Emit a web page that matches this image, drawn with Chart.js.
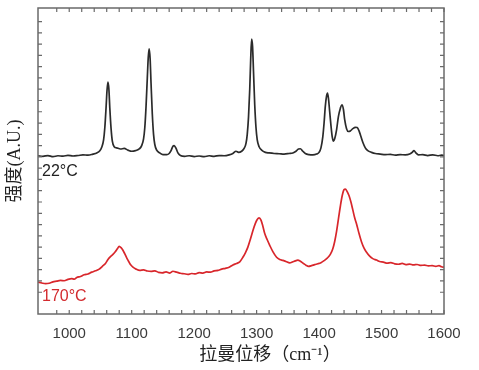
<!DOCTYPE html>
<html>
<head>
<meta charset="utf-8">
<style>
html,body{margin:0;padding:0;background:#fff;}
#wrap{width:479px;height:370px;}
</style>
<script src="https://cdn.jsdelivr.net/npm/chart.js@4.4.1/dist/chart.umd.min.js"></script>
</head>
<body>
<div id="wrap"><canvas id="c" width="479" height="370"></canvas></div>
<script>
// ---- data ----
const xTickLabels = [1000, 1100, 1200, 1300, 1400, 1500, 1600];
const seriesLabels = ['22°C', '170°C'];
const xTitle = '拉曼位移（cm⁻¹）';
const yTitle = '强度(A.U.)';

const roomShift = [950,958,966,974,982,990,998,1006,1014,1022,1030,1038,1044,1049,1052,1055,1057,1059,1060.5,1062,1063.5,1065,1067,1069,1072,1076,1082,1088,1094,1100,1106,1112,1116,1119,1121,1123,1125,1126.5,1128,1129.5,1131,1133,1135,1137,1140,1145,1150,1156,1160,1163,1166,1168,1171,1174,1178,1185,1192,1200,1208,1216,1224,1232,1240,1248,1256,1262,1267,1271,1276,1280,1283,1285,1287,1289,1290.5,1292,1293.5,1295,1297,1299,1301,1304,1308,1314,1320,1328,1336,1344,1352,1358,1363,1367,1370,1374,1378,1384,1390,1396,1400,1403,1406,1408,1410,1412,1413.5,1415,1417,1419,1421,1423,1425,1428,1431,1434,1436.5,1439,1441,1444,1447,1450,1454,1458,1461,1464,1467,1470,1474,1478,1484,1490,1498,1506,1514,1522,1530,1538,1545,1549,1552,1555,1559,1566,1574,1582,1590,1596,1600];
const roomIntensity = [13.10,13.05,13.12,13.02,13.10,13.06,13.14,13.08,13.12,13.18,13.15,13.25,13.35,13.55,13.85,14.5,15.6,17.4,18.9,19.62,19.0,17.3,15.5,14.4,13.9,13.8,13.7,13.75,13.6,13.5,13.55,13.7,14.0,14.6,15.6,17.5,20.0,21.8,22.57,21.7,19.5,16.8,15.0,14.1,13.6,13.35,13.2,13.2,13.3,13.55,13.95,14.0,13.75,13.35,13.12,13.05,13.1,13.03,13.08,13.02,13.1,13.05,13.12,13.1,13.18,13.3,13.5,13.4,13.5,13.75,14.2,15.0,16.5,19.0,21.6,23.45,22.8,20.6,17.6,15.6,14.5,13.9,13.6,13.4,13.35,13.3,13.28,13.25,13.3,13.35,13.5,13.7,13.72,13.5,13.3,13.2,13.18,13.25,13.4,13.8,14.8,16.0,17.5,18.4,18.66,18.2,17.0,15.8,14.8,14.4,14.6,15.4,16.6,17.3,17.62,17.2,16.3,15.5,15.25,15.3,15.5,15.62,15.6,15.3,14.8,14.3,13.8,13.55,13.4,13.3,13.25,13.2,13.22,13.15,13.2,13.18,13.25,13.4,13.55,13.35,13.18,13.2,13.12,13.18,13.1,13.15,13.12];

const hotShift = [950,956,962,968,974,980,986,992,998,1004,1008,1012,1018,1024,1030,1036,1042,1048,1053,1058,1062,1066,1070,1074,1077,1080,1083,1086,1089,1092,1095,1098,1102,1107,1113,1119,1125,1131,1137,1143,1149,1155,1161,1166,1172,1178,1184,1190,1196,1202,1208,1214,1220,1226,1232,1238,1244,1250,1256,1262,1268,1273,1278,1282,1286,1290,1294,1298,1301,1304,1307,1310,1313,1317,1321,1326,1332,1337,1342,1347,1353,1358,1362,1366,1370,1375,1379,1383,1388,1393,1398,1403,1408,1413,1418,1422,1425,1428,1431,1434,1437,1440,1442,1445,1448,1451,1454,1457,1460,1464,1468,1472,1476,1481,1486,1492,1497,1503,1509,1515,1521,1527,1533,1539,1545,1551,1557,1563,1569,1575,1581,1587,1592,1596,1600];
const hotIntensity = [1.90,1.82,1.76,1.80,1.92,1.98,2.05,2.02,2.14,2.20,2.16,2.30,2.40,2.55,2.62,2.78,2.90,3.05,3.30,3.55,3.90,4.15,4.35,4.62,4.85,5.07,4.95,4.72,4.40,4.05,3.75,3.45,3.22,3.05,2.94,2.98,2.88,2.85,2.90,2.76,2.72,2.80,2.70,2.86,2.78,2.68,2.64,2.58,2.66,2.62,2.74,2.70,2.80,2.78,2.90,2.94,3.05,3.12,3.22,3.42,3.55,3.70,4.10,4.50,5.00,5.70,6.45,7.10,7.45,7.59,7.40,6.85,6.20,5.65,5.16,4.60,4.10,3.90,3.82,3.72,3.60,3.70,3.78,3.84,3.75,3.55,3.40,3.30,3.36,3.45,3.52,3.62,3.80,4.02,4.35,4.85,5.50,6.40,7.50,8.60,9.55,10.10,10.14,9.92,9.55,9.00,8.30,7.60,7.05,6.20,5.45,4.90,4.55,4.20,3.98,3.85,3.72,3.67,3.58,3.62,3.52,3.48,3.55,3.45,3.50,3.42,3.46,3.38,3.40,3.34,3.36,3.30,3.36,3.26,3.22];

const toPoints = (xs, ys) => xs.map((x, i) => ({x: x, y: ys[i]}));

const framePlugin = {
  id: 'frame',
  afterDraw(chart) {
    const {ctx, chartArea: a, scales: {x, y}} = chart;
    ctx.save();
    ctx.strokeStyle = '#6a6a6a';
    ctx.lineWidth = 1.5;
    ctx.strokeRect(a.left, a.top, a.right - a.left, a.bottom - a.top);
    ctx.lineWidth = 1.2;
    ctx.beginPath();
    x.ticks.forEach(t => {
      if (t.value % 20 !== 0) return;
      const px = x.getPixelForValue(t.value);
      ctx.moveTo(px, a.bottom); ctx.lineTo(px, a.bottom - 4);
      ctx.moveTo(px, a.top); ctx.lineTo(px, a.top + 4);
    });
    y.ticks.forEach(t => {
      if (!Number.isInteger(t.value)) return;
      const py = y.getPixelForValue(t.value);
      ctx.moveTo(a.left, py); ctx.lineTo(a.left + 4, py);
      ctx.moveTo(a.right, py); ctx.lineTo(a.right - 4, py);
    });
    ctx.stroke();
    // series labels
    ctx.font = '16px "Liberation Sans", Arial, sans-serif';
    ctx.textBaseline = 'middle';
    ctx.textAlign = 'left';
    ctx.fillStyle = '#222222';
    ctx.fillText(seriesLabels[0], a.left + 4, 172);
    ctx.fillStyle = '#d32a2e';
    ctx.fillText(seriesLabels[1], a.left + 4, 297);
    // x axis title
    ctx.fillStyle = '#222222';
    ctx.textAlign = 'center';
    ctx.font = '18px "Liberation Serif", "Noto Sans CJK SC", serif';
    ctx.fillText(xTitle, 270, 355);
    ctx.restore();
  }
};

new Chart(document.getElementById('c'), {
  type: 'line',
  data: {
    datasets: [
      {label: seriesLabels[0], data: toPoints(roomShift, roomIntensity), borderColor: '#2b2b2b', borderWidth: 1.7, pointRadius: 0, cubicInterpolationMode: 'monotone', fill: false},
      {label: seriesLabels[1], data: toPoints(hotShift, hotIntensity), borderColor: '#d8262b', borderWidth: 1.7, pointRadius: 0, cubicInterpolationMode: 'monotone', fill: false}
    ]
  },
  options: {
    responsive: false,
    animation: false,
    events: [],
    layout: {padding: {top: 8, right: 35, left: 0, bottom: 0}},
    plugins: {legend: {display: false}, tooltip: {enabled: false}},
    scales: {
      x: {
        type: 'linear', min: 950, max: 1600,
        grid: {display: false, drawTicks: false},
        border: {display: false},
        ticks: {
          stepSize: 20, autoSkip: false, maxRotation: 0, padding: 11,
          color: '#3a3a3a',
          font: {family: '"Liberation Sans", Arial, sans-serif', size: 15},
          callback: v => xTickLabels.includes(v) ? String(v) : ''
        },
        afterFit: s => { s.height = 56; }
      },
      y: {
        type: 'linear', min: -0.93, max: 26.2,
        grid: {display: false, drawTicks: false},
        border: {display: false},
        ticks: {display: false, stepSize: 1},
        title: {display: true, text: yTitle, color: '#222222', padding: {top: 4, bottom: 0},
          font: {family: '"Liberation Serif", "Noto Sans CJK SC", serif', size: 18}},
        afterFit: s => { s.width = 38; }
      }
    }
  },
  plugins: [framePlugin]
});
</script>
</body>
</html>
